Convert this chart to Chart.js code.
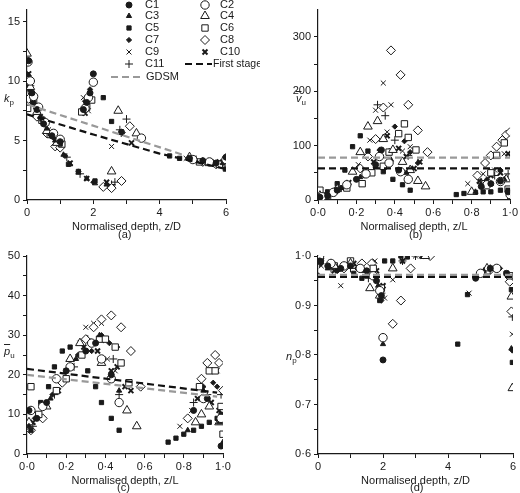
<!DOCTYPE html>
<html><head><meta charset="utf-8">
<script src="https://cdn.jsdelivr.net/npm/chart.js@4"></script>
<style>
body{margin:0;background:#fff;font-family:"Liberation Sans",Arial,sans-serif;color:#222}
.p{position:absolute}
.lab{position:absolute;font-size:11px;font-family:"Liberation Sans",Arial,sans-serif}
i{font-style:italic}
</style></head><body>
<canvas id="ca" class="p" style="left:0;top:0;width:260px;height:240px"></canvas>
<canvas id="cb" class="p" style="left:260px;top:0;width:260px;height:240px"></canvas>
<canvas id="cc" class="p" style="left:0;top:240px;width:260px;height:253px"></canvas>
<canvas id="cd" class="p" style="left:260px;top:240px;width:260px;height:253px"></canvas>
<div class="lab" style="left:4px;top:92px"><i>k</i><sub style="font-size:8px">p</sub></div>
<div class="lab" style="left:296px;top:92px"><span style="text-decoration:overline"><i>v</i></span><sub style="font-size:8px">u</sub></div>
<div class="lab" style="left:4px;top:345px"><span style="text-decoration:overline"><i>p</i></span><sub style="font-size:8px">u</sub></div>
<div class="lab" style="left:286px;top:350px"><i>n</i><sub style="font-size:8px">p</sub></div>
<div class="lab" style="left:118px;top:228px">(a)</div>
<div class="lab" style="left:409px;top:228px">(b)</div>
<div class="lab" style="left:117px;top:481px">(c)</div>
<div class="lab" style="left:410px;top:481px">(d)</div>
<script>
const seriesNames=['C1','C2','C3','C4','C5','C6','C7','C8','C9','C10','C11'];
// panel (a): k_p vs z/D
const kpC1=[[0.05,11.7],[0.15,9],[0.3,7.6],[0.5,6.4],[0.75,5.4],[1,4.9],[1.7,7.6],[1.8,8.2],[1.9,9],[2,10.6],[2.85,5.7],[4.9,3.5],[5.3,3.3],[5.7,3.1],[6,3.6]];
const kpC2=[[0.03,11.6],[0.1,10],[0.2,8.7],[0.35,7.8],[0.55,6.5],[0.8,5.6],[1,5.1],[1.75,7.7],[1.85,8.6],[2,9.9],[3.45,5.2],[5,3.4],[5.5,3.2],[6,3.4]];
const kpC3=[[0.05,10.5],[0.2,8.2],[0.4,7],[0.6,6],[0.85,5],[1.1,3.8],[1.3,3],[1.55,2.3],[1.8,1.8],[2.05,1.4],[2.4,1.3],[5.1,3.3],[5.9,3.1]];
const kpC4=[[0,12.3],[0.1,9.5],[0.3,7.4],[0.6,5.8],[0.9,4.8],[2.55,2.4],[2.75,7.5],[3.3,5.6],[4.9,3.6],[5.5,3.1],[6,3.3]];
const kpC5=[[0.05,9.5],[0.2,8.2],[0.45,6.8],[0.7,5.6],[1,4.7],[1.25,3],[1.55,2.4],[2.05,1.6],[2.3,8.6],[2.55,6.6],[4.3,3.7],[4.6,3.5],[5.5,3.1],[5.98,2.6]];
const kpC6=[[0.02,7.7],[0.2,8.3],[0.45,6.7],[0.7,5.5],[1.05,4.7],[1.65,7.4],[1.8,7.8],[1.95,8.4],[5.2,3.2],[5.8,3],[6,3.4]];
const kpC7=[[0.08,9.2],[0.25,7.9],[0.5,6.6],[0.8,5.2],[1.15,3.7],[1.55,2.4],[2,1.5],[1.75,8.3],[1.9,9.3],[5,3.4],[5.6,3.2],[6,3.5]];
const kpC8=[[0.05,8.5],[0.3,7],[0.6,5.6],[0.85,4.5],[1,4.4],[2.3,1.1],[2.55,1],[2.85,1.6],[3.1,6.2],[5.3,3.2],[5.7,3],[6,3.2]];
const kpC9=[[0.1,8.8],[0.35,7.2],[0.65,5.9],[0.9,5],[2.55,4.5],[2.9,5.5],[1.7,8.6],[1.85,7.5],[4.8,3.5],[5.4,3.2],[5.9,3]];
const kpC10=[[0.05,10.6],[0.15,8.4],[0.4,7],[0.7,5.7],[1.05,4.6],[1.3,3.1],[1.8,1.8],[2.4,1.5],[3.15,4.8],[1.75,7.3],[5,3.5],[5.8,3.2]];
const kpC11=[[0.1,9.6],[0.3,7.7],[0.55,6.3],[0.9,4.9],[1.2,3.6],[1.6,2.2],[2.55,1.3],[2.65,1.5],[3,6.8],[2.8,5.9],[5.1,3.4],[6,3.6]];
const kpGDSM=[[0.05,8],[4.7,3.8]];
const kpFirst=[[0,7.2],[2,5.5],[4,3.9],[6,2.6]];
// panel (b): v_u vs z/L
const vuC1=[[0.01,5],[0.05,8],[0.1,18],[0.2,38],[0.3,65],[0.33,92],[0.42,55],[0.85,25],[0.9,30],[0.95,35],[0.99,15]];
const vuC2=[[0.02,6],[0.08,14],[0.15,28],[0.25,48],[0.32,80],[0.37,68],[0.43,52],[0.47,38],[0.88,28],[0.95,34],[1,10]];
const vuC3=[[0.01,4],[0.12,22],[0.22,42],[0.3,62],[0.38,74],[0.46,50],[0.82,15],[0.9,30],[0.97,38],[1,5]];
const vuC4=[[0.01,8],[0.1,20],[0.18,52],[0.22,88],[0.26,135],[0.31,145],[0.34,112],[0.39,92],[0.44,70],[0.48,55],[0.52,35],[0.56,25],[0.8,15],[0.98,38]];
const vuC5=[[0.02,3],[0.05,15],[0.1,30],[0.14,55],[0.18,98],[0.22,118],[0.26,90],[0.34,52],[0.39,38],[0.44,28],[0.48,18],[0.72,10],[0.76,12],[0.82,14],[0.86,15],[0.9,15],[0.95,18],[0.99,18]];
const vuC6=[[0.01,18],[0.05,8],[0.15,22],[0.23,30],[0.28,50],[0.34,62],[0.37,88],[0.42,122],[0.45,140],[0.47,115],[0.51,92],[0.87,30],[0.9,50],[0.93,82],[0.97,105],[0.99,20]];
const vuC7=[[0.03,7],[0.12,22],[0.24,45],[0.32,92],[0.37,90],[0.4,135],[0.45,108],[0.48,88],[0.52,68],[0.88,38],[0.95,55]];
const vuC8=[[0.02,5],[0.1,20],[0.22,58],[0.26,80],[0.3,112],[0.34,170],[0.38,275],[0.43,230],[0.47,175],[0.52,128],[0.57,88],[0.83,45],[0.87,68],[0.9,82],[0.93,98],[0.96,110],[0.98,120],[1,125]];
const vuC9=[[0.05,10],[0.21,65],[0.27,110],[0.3,165],[0.34,215],[0.38,175],[0.36,125],[0.44,90],[0.48,98],[0.78,30],[0.86,48],[0.92,55],[0.97,85]];
const vuC10=[[0.04,8],[0.16,32],[0.29,70],[0.36,118],[0.42,95],[0.46,80],[0.5,58],[0.53,70],[0.84,35],[0.9,45],[0.95,50],[0.99,85]];
const vuC11=[[0.03,6],[0.14,25],[0.25,50],[0.31,175],[0.35,155],[0.4,110],[0.47,82],[0.85,30],[0.92,45],[0.99,48]];
const vuGDSM=[[0,78],[1,78]];
const vuFirst=[[0,58],[1,58]];
// panel (c): p_u vs z/L
const puC1=[[0.01,11],[0.05,9],[0.1,13],[0.2,21],[0.3,26],[0.35,28],[0.43,20],[0.85,11],[0.92,14],[0.99,2]];
const puC2=[[0.02,11],[0.08,12],[0.15,19],[0.22,22],[0.33,28],[0.38,24],[0.43,19],[0.47,13],[0.9,14],[0.99,9]];
const puC3=[[0.01,7],[0.12,14],[0.25,24],[0.37,30],[0.47,16],[0.82,6],[0.9,16],[0.98,8],[1,3]];
const puC4=[[0.01,8],[0.1,12],[0.22,24],[0.27,28],[0.38,23],[0.51,11],[0.56,7],[0.86,8],[0.89,10],[0.93,12],[0.98,8]];
const puC5=[[0.02,6],[0.07,13],[0.11,17],[0.14,22],[0.18,26],[0.22,27],[0.31,21],[0.35,17],[0.38,13],[0.43,9],[0.47,6],[0.72,3],[0.76,4],[0.8,5],[0.85,6],[0.89,7],[0.93,8],[0.97,9],[0.99,10]];
const puC6=[[0.02,17],[0.06,10],[0.15,16],[0.2,19],[0.28,25],[0.37,29],[0.4,29],[0.45,27],[0.48,23],[0.52,18],[0.88,17],[0.93,21],[0.96,21],[0.99,12],[1,5]];
const puC7=[[0.04,9],[0.13,15],[0.26,25],[0.33,26],[0.38,30],[0.42,28],[0.46,27],[0.9,17],[0.95,18],[0.97,17]];
const puC8=[[0.02,6],[0.08,9],[0.18,18],[0.3,29],[0.34,32],[0.38,34],[0.43,35],[0.48,32],[0.53,26],[0.58,17],[0.82,9],[0.89,19],[0.92,23],[0.96,25],[0.98,23],[1,16]];
const puC9=[[0.05,10],[0.2,21],[0.27,28],[0.3,32],[0.34,33],[0.38,33],[0.41,24],[0.45,21],[0.78,7],[0.84,11],[0.9,14],[0.97,21]];
const puC10=[[0.03,8],[0.16,16],[0.29,27],[0.36,26],[0.43,21],[0.46,22],[0.5,17],[0.53,16],[0.87,14],[0.94,13],[0.98,11]];
const puC11=[[0.03,7],[0.14,15],[0.24,22],[0.31,29],[0.39,29],[0.44,24],[0.47,15],[0.85,13],[0.92,15],[0.99,15]];
const puGDSM=[[0,20],[0.97,14.5]];
const puFirst=[[0,21.5],[0.97,15.5]];
// panel (d): n_p vs z/D
const npC1=[[0.05,0.99],[0.3,0.98],[0.7,0.975],[1,0.98],[1.5,0.97],[1.8,0.95],[1.95,0.92],[2,0.79],[4.85,0.955],[5.3,0.975],[5.8,0.965]];
const npC2=[[0.05,1],[0.4,0.985],[0.8,0.98],[1.3,0.975],[1.7,0.96],[1.9,0.93],[2,0.835],[5,0.965],[5.5,0.975]];
const npC3=[[0.02,0.96],[0.3,0.975],[0.9,0.98],[1.4,0.97],[1.85,0.94],[2,0.822],[5.1,0.97],[5.95,0.813]];
const npC4=[[0.05,1],[0.5,0.98],[1,0.985],[1.6,0.935],[1.9,0.92],[2.3,0.975],[3.3,1],[5.2,0.975],[5.95,0.918],[5.98,0.733]];
const npC5=[[0.1,0.99],[0.6,0.975],[1.1,0.965],[1.35,0.955],[1.9,0.91],[2.05,0.99],[2.3,0.99],[2.55,1],[2.75,0.998],[4.3,0.822],[4.6,0.922],[5.4,0.975],[5.95,0.932],[5.98,0.785]];
const npC6=[[0.03,0.995],[0.5,0.98],[1,0.99],[1.7,0.975],[1.95,0.935],[5.2,0.97],[5.9,0.96]];
const npC7=[[0.1,0.985],[0.6,0.97],[1.2,0.975],[1.75,0.96],[1.95,0.91],[4.9,0.958],[5.6,0.975],[5.98,0.809]];
const npC8=[[0.05,0.99],[0.8,0.975],[1.35,0.985],[1.65,0.985],[2.3,0.863],[2.55,0.91],[2.85,0.975],[3.45,1],[5.3,0.972],[5.9,0.948],[5.95,0.888]];
const npC9=[[0.1,0.98],[0.7,0.94],[1.2,0.98],[1.75,0.99],[2.05,0.915],[2.3,0.952],[3,1],[4.65,0.925],[5,0.962],[5.98,0.842]];
const npC10=[[0.05,0.995],[0.5,0.97],[1.1,0.985],[1.8,0.97],[2,0.94],[2.6,0.99],[3.2,1],[5.5,0.975],[5.8,0.965]];
const npC11=[[0.05,0.985],[0.4,0.975],[1,0.975],[1.55,0.955],[1.95,0.925],[2.6,0.99],[3,1],[5.3,0.975],[5.98,0.877]];
const npGDSM=[[0,0.962],[6,0.962]];
const npFirst=[[0,0.958],[6,0.958]];

const FONT='"Liberation Sans", Arial, sans-serif';
const INK='#1a1a1a';
const styles=[
 {ps:'circle',r:3,fill:true},{ps:'circle',r:4.2,fill:false},
 {ps:'triangle',r:3,fill:true},{ps:'triangle',r:5,fill:false},
 {ps:'rect',r:3,fill:true},{ps:'rect',r:4.5,fill:false},
 {ps:'rectRot',r:2.6,fill:true},{ps:'rectRot',r:4.5,fill:false},
 {ps:'crossRot',r:3.5,fill:false},{ps:'crossRot',r:3.5,fill:true,bw:2},
 {ps:'cross',r:4,fill:false}];
function pts(a){return a.map(p=>({x:p[0],y:p[1]}));}
function mk(series,gd,fs){
  const ds=series.map((s,i)=>({label:seriesNames[i],data:pts(s),showLine:false,
    pointStyle:styles[i].ps,pointRadius:styles[i].r,pointHoverRadius:styles[i].r,
    pointBackgroundColor:styles[i].fill?INK:'#fff',pointBorderColor:INK,pointBorderWidth:styles[i].bw||1}));
  ds.unshift({label:'First stage',data:pts(fs),showLine:true,pointRadius:0,borderColor:'#111',borderWidth:2.2,borderDash:[7,4],tension:0});
  ds.unshift({label:'GDSM',data:pts(gd),showLine:true,pointRadius:0,borderColor:'#999',borderWidth:2.2,borderDash:[7,4],tension:0});
  return ds;
}
function fmt(v,dec){return dec? v.toFixed(1).replace('.','\u00b7'):String(Math.round(v));}
function mkTicks(min,max,step){const t=[];const n=Math.round((max-min)/step);for(let i=0;i<=n;i++){const v=+(min+i*step).toFixed(6);if(v<=max+1e-9)t.push({value:v});}return t;}
function isLab(v,lab){const k=v/lab;return Math.abs(k-Math.round(k))<1e-6;}
function axes(o){
  return {
    x:{type:'linear',min:o.xmin,max:o.xmax,afterFit:s=>{s.height=34;},
      afterBuildTicks:s=>{s.ticks=mkTicks(o.xmin,o.xmax,o.xstep);},
      ticks:{autoSkip:false,maxRotation:0,color:INK,font:{family:FONT,size:11},padding:2,
        callback:v=>isLab(v,o.xlab)?fmt(v,o.xdec):''},
      grid:{drawOnChartArea:false,tickLength:4,color:INK},border:{color:INK,width:1.2},
      title:{display:true,text:o.xtitle,color:INK,font:{family:FONT,size:11},padding:{top:3,bottom:0}}},
    y:{type:'linear',min:o.ymin,max:o.ymax,afterFit:s=>{s.width=o.yw;},
      afterBuildTicks:s=>{s.ticks=mkTicks(o.ymin,o.ylabmax,o.ystep);},
      ticks:{autoSkip:false,color:INK,font:{family:FONT,size:11},padding:3,
        callback:v=>isLab(v,o.ylab)?fmt(v,o.ydec):''},
      grid:{drawOnChartArea:false,tickLength:4,color:INK},border:{color:INK,width:1.2}}
  };
}
const legendPlugin={id:'lg',afterDatasetsDraw(c){
  const ctx=c.ctx;ctx.save();ctx.font='11px '+FONT;ctx.textBaseline='middle';
  const rows=[5,16,28,40,52,64];
  for(let i=0;i<11;i++){
    const col=i%2,row=Math.floor(i/2);const mx=col?205:129,tx=col?220:145,y=rows[row];
    const st=styles[i];
    ctx.fillStyle=st.fill?INK:'#fff';ctx.strokeStyle=INK;ctx.lineWidth=st.bw||1;
    Chart.helpers.drawPoint(ctx,{pointStyle:st.ps,radius:st.r,borderWidth:st.bw||1,rotation:0},mx,y);
    ctx.fillStyle=INK;ctx.fillText(seriesNames[i],tx,y);
  }
  ctx.setLineDash([7,4]);ctx.lineWidth=2.2;
  ctx.strokeStyle='#111';ctx.beginPath();ctx.moveTo(185,64);ctx.lineTo(212,64);ctx.stroke();
  ctx.strokeStyle='#999';ctx.beginPath();ctx.moveTo(111,77);ctx.lineTo(141,77);ctx.stroke();
  ctx.setLineDash([]);ctx.fillStyle=INK;
  ctx.font='10.5px '+FONT;ctx.fillText('First stage',213,64);ctx.font='11px '+FONT;ctx.fillText('GDSM',146,77);
  ctx.restore();}};
function build(id,datasets,ax,pad,plugins){
  new Chart(document.getElementById(id),{type:'scatter',data:{datasets},
    options:{responsive:false,animation:false,layout:{padding:pad},
      plugins:{legend:{display:false},tooltip:{enabled:false}},scales:ax},plugins:plugins||[]});
}
build('ca',mk([kpC1,kpC2,kpC3,kpC4,kpC5,kpC6,kpC7,kpC8,kpC9,kpC10,kpC11],kpGDSM,kpFirst),
  axes({xmin:0,xmax:6,xstep:1,xlab:2,xdec:false,xtitle:'Normalised depth, z/D',ymin:0,ymax:16,ystep:2.5,ylab:5,ylabmax:15,ydec:false,yw:27}),
  {left:0,right:34,top:3,bottom:6},[legendPlugin]);
build('cb',mk([vuC1,vuC2,vuC3,vuC4,vuC5,vuC6,vuC7,vuC8,vuC9,vuC10,vuC11],vuGDSM,vuFirst),
  axes({xmin:0,xmax:1,xstep:0.1,xlab:0.2,xdec:true,xtitle:'Normalised depth, z/L',ymin:0,ymax:350,ystep:50,ylab:100,ylabmax:300,ydec:false,yw:58}),
  {left:0,right:7,top:3,bottom:6});
build('cc',mk([puC1,puC2,puC3,puC4,puC5,puC6,puC7,puC8,puC9,puC10,puC11],puGDSM,puFirst),
  axes({xmin:0,xmax:1,xstep:0.1,xlab:0.2,xdec:true,xtitle:'Normalised depth, z/L',ymin:0,ymax:50,ystep:5,ylab:10,ylabmax:50,ydec:false,yw:27}),
  {left:0,right:37,top:16,bottom:5});
build('cd',mk([npC1,npC2,npC3,npC4,npC5,npC6,npC7,npC8,npC9,npC10,npC11],npGDSM,npFirst),
  axes({xmin:0,xmax:6,xstep:1,xlab:2,xdec:false,xtitle:'Normalised depth, z/D',ymin:0.6,ymax:1.0,ystep:0.05,ylab:0.1,ylabmax:1.0,ydec:true,yw:58}),
  {left:0,right:7,top:16,bottom:5});
</script></body></html>
